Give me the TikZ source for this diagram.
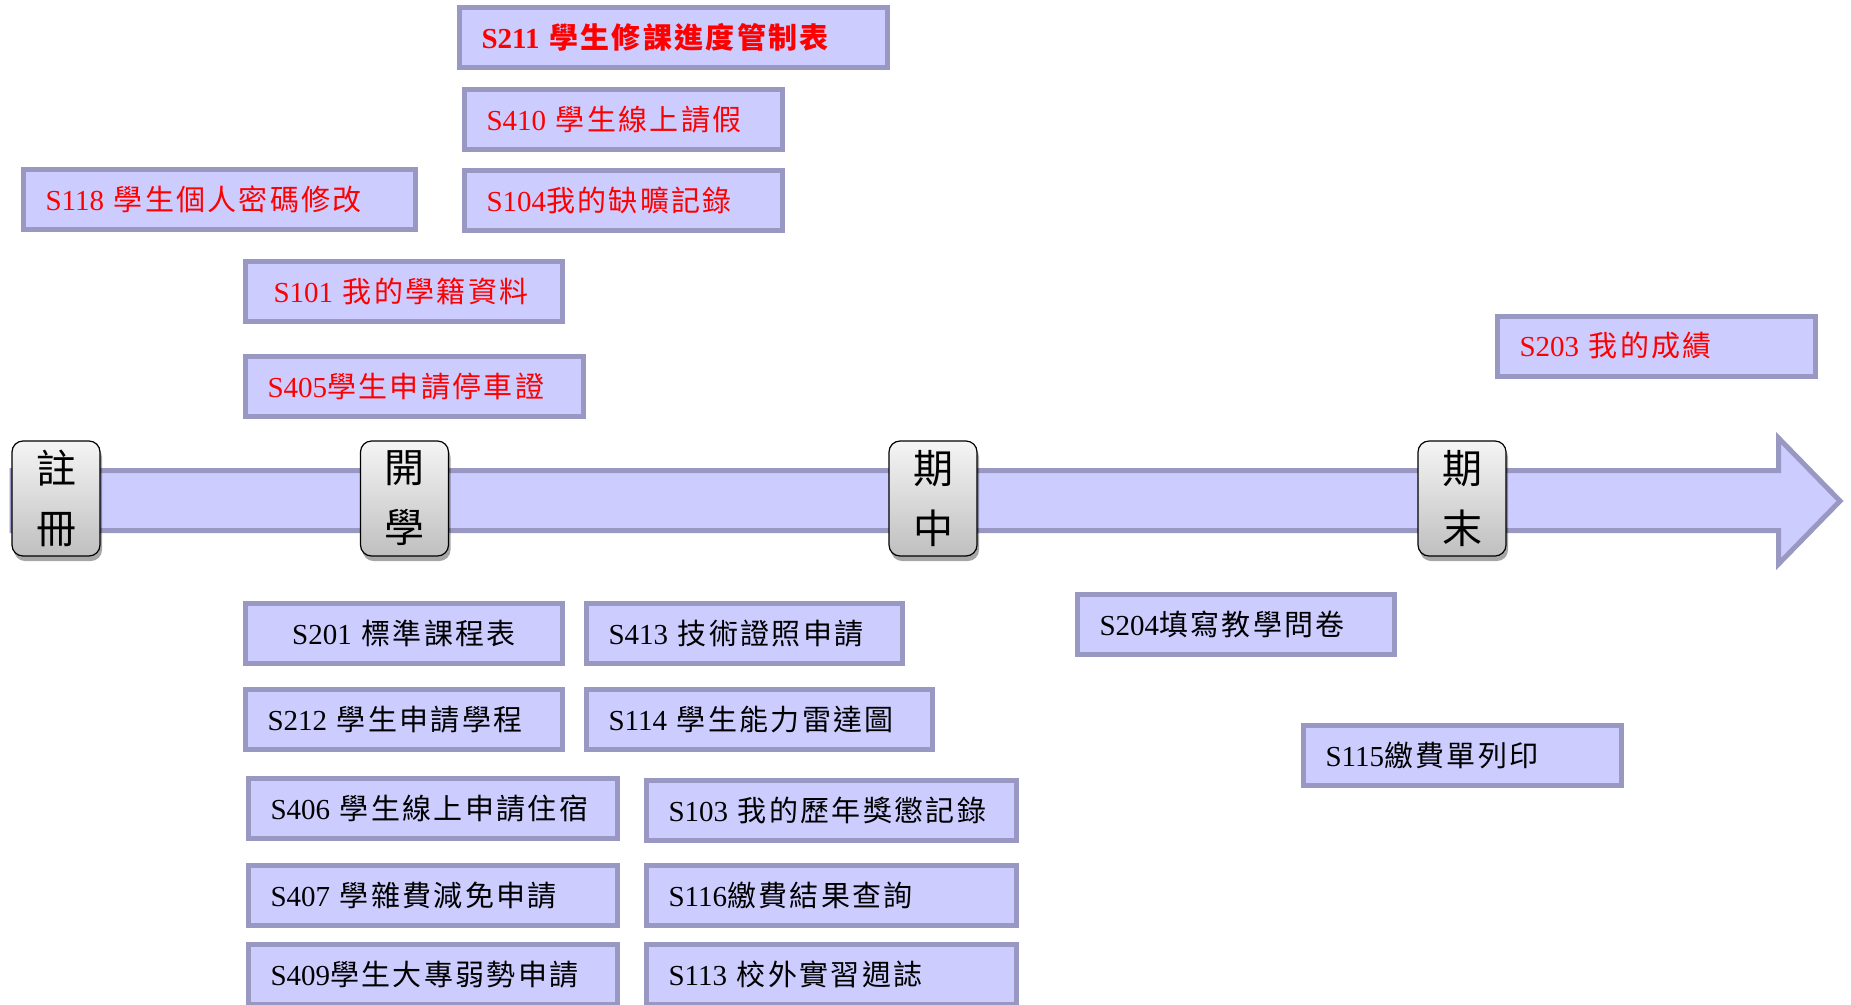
\documentclass[tikz,border=0pt]{standalone}
\usepackage{fontspec}
\setmainfont{Liberation Serif}
\newfontfamily\cjk[LetterSpace=8]{Noto Sans CJK TC}
\newfontfamily\cjkms{Noto Sans CJK TC}
\usetikzlibrary{shadows}
\definecolor{boxfill}{HTML}{CCCCFF}
\definecolor{boxline}{HTML}{9898C2}
\definecolor{redtxt}{HTML}{FF0000}
\tikzset{
  task/.style={draw=boxline, fill=boxfill, line width=5pt, inner xsep=22pt, inner ysep=0pt,
    minimum height=60pt, align=left, font=\fontsize{29pt}{34pt}\selectfont},
  redtask/.style={task, text=redtxt},
  band/.style={draw=boxline, fill=boxfill, line width=5pt, line join=miter},
  ms/.style={rounded corners=11pt, draw=black, line width=1.2pt, top color=gray!8, bottom color=gray!50,
    minimum width=88pt, minimum height=115pt, inner sep=0pt, align=center,
    font=\fontsize{40pt}{60pt}\selectfont\cjkms,
    drop shadow={shadow xshift=2pt, shadow yshift=-5pt, opacity=0.35, fill=black}}
}
\newcommand\taskbox[6]{%
  \pgfmathsetmacro\tbw{#4-44}%
  \node[minimum width=#4pt, text width=\tbw pt, #6] (#1) at (#2,#3) {#5};}
\begin{document}
\begin{tikzpicture}[x=1pt,y=-1pt]
\clip (0,0) rectangle (1851,1004);
\fill[white] (0,0) rectangle (1851,1004);
% timeline arrow
\draw[band] (12,470.5) -- (1778.5,470.5) -- (1778.5,438) -- (1840,501) -- (1778.5,564) -- (1778.5,530.5) -- (12,530.5) -- cycle;
% milestones
\node[ms] (reg) at (56,498.5) {註\\冊};
\node[ms] (start) at (404.5,498.5) {開\\學};
\node[ms] (mid) at (933,498.5) {期\\中};
\node[ms] (fin) at (1462,498.5) {期\\末};
% upper (red) tasks
\taskbox{s211}{673.5}{37.5}{428}{\bfseries S211 {\cjk 學生修課進度管制表}}{redtask}
\taskbox{s410}{623.5}{119.5}{318}{S410 {\cjk 學生線上請假}}{redtask}
\taskbox{s118}{219.5}{199.5}{392}{S118 {\cjk 學生個人密碼修改}}{redtask}
\taskbox{s104}{623.5}{200.5}{318}{S104{\cjk 我的缺曠記錄}}{redtask}
\taskbox{s101}{404}{291.5}{317}{S101 {\cjk 我的學籍資料}}{redtask, inner xsep=28pt, text width=261pt}
\taskbox{s405}{414.5}{386.5}{338}{S405{\cjk 學生申請停車證}}{redtask}
\taskbox{s203}{1656.5}{346}{318}{S203 {\cjk 我的成績}}{redtask}
% lower (black) tasks
\taskbox{s201}{404}{633.5}{317}{S201 {\cjk 標準課程表}}{task, align=center}
\taskbox{s413}{744.5}{633.5}{316}{S413 {\cjk 技術證照申請}}{task}
\taskbox{s212}{404}{719.5}{317}{S212 {\cjk 學生申請學程}}{task}
\taskbox{s114}{759.5}{719.5}{346}{S114 {\cjk 學生能力雷達圖}}{task}
\taskbox{s406}{433}{808.5}{369}{S406 {\cjk 學生線上申請住宿}}{task}
\taskbox{s103}{831.5}{810.5}{370}{S103 {\cjk 我的歷年獎懲記錄}}{task}
\taskbox{s407}{433}{895.5}{369}{S407 {\cjk 學雜費減免申請}}{task}
\taskbox{s116}{831.5}{895.5}{370}{S116{\cjk 繳費結果查詢}}{task}
\taskbox{s409}{433}{974.5}{369}{S409{\cjk 學生大專弱勢申請}}{task}
\taskbox{s113}{831.5}{974.5}{370}{S113 {\cjk 校外實習週誌}}{task}
\taskbox{s204}{1236}{624}{317}{S204{\cjk 填寫教學問卷}}{task}
\taskbox{s115}{1462.5}{755.5}{318}{S115{\cjk 繳費單列印}}{task}
\end{tikzpicture}
\end{document}
